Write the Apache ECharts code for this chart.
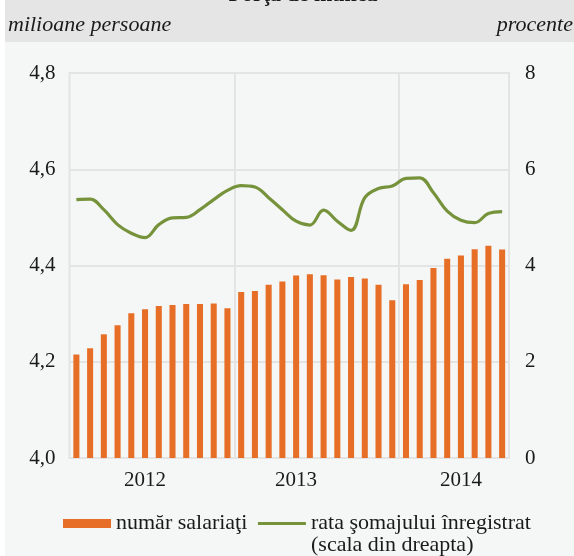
<!DOCTYPE html>
<html>
<head>
<meta charset="utf-8">
<script src="https://cdn.jsdelivr.net/npm/echarts@6/dist/echarts.min.js"></script>
<style>html,body{margin:0;padding:0;background:#fff}#c{width:574px;height:556px}</style>
</head>
<body>
<div id="c"></div>
<script>
var months = ['ian 2012','feb 2012','mar 2012','apr 2012','mai 2012','iun 2012','iul 2012','aug 2012','sep 2012','oct 2012','noi 2012','dec 2012',
              'ian 2013','feb 2013','mar 2013','apr 2013','mai 2013','iun 2013','iul 2013','aug 2013','sep 2013','oct 2013','noi 2013','dec 2013',
              'ian 2014','feb 2014','mar 2014','apr 2014','mai 2014','iun 2014','iul 2014','aug 2014'];
var salariati = [4.215,4.228,4.257,4.276,4.301,4.309,4.316,4.318,4.320,4.320,4.321,4.311,
                 4.345,4.347,4.360,4.367,4.379,4.382,4.380,4.371,4.376,4.373,4.360,4.328,
                 4.361,4.370,4.395,4.414,4.421,4.434,4.441,4.433];
var somaj = [5.37,5.38,5.16,4.85,4.67,4.58,4.85,4.99,5.00,5.16,5.37,5.56,
             5.66,5.63,5.41,5.16,4.92,4.84,5.15,4.92,4.73,5.41,5.60,5.65,
             5.81,5.82,5.51,5.13,4.94,4.89,5.08,5.12];
var yearLabelIndex = [5,16,28];
var yearLabels = ['2012','2013','2014'];
var leftTicks = {min:4.0, max:4.8, interval:0.2};
var rightTicks = {min:0, max:8, interval:2};
var seriesNames = ['număr salariaţi','rata şomajului înregistrat'];

var FONT = 'Liberation Serif';
var TXT = '#1a1a1a';
var GRIDC = '#e4e4e4';
var GREEN = '#76933c';
var ORANGE = '#e66e26';

var chart = echarts.init(document.getElementById('c'), null, {renderer:'canvas'});
chart.setOption({
  backgroundColor: '#f5f7f6',
  animation: false,
  textStyle: {fontFamily: FONT},
  graphic: [
    {type:'rect', shape:{x:0,y:0,width:5,height:556}, style:{fill:'#ffffff'}, z:0},
    {type:'rect', shape:{x:5,y:0,width:569,height:42}, style:{fill:'#e5e5e5'}, z:0},
    {type:'text', x:303, y:6, z:10, style:{text:'Forţa de muncă', font:'bold 22px "Liberation Serif"', fill:TXT, textAlign:'center', textVerticalAlign:'bottom'}},
    {type:'text', x:8, y:25, z:10, style:{text:'milioane persoane', font:'italic 22px "Liberation Serif"', fill:TXT, textAlign:'left', textVerticalAlign:'middle'}},
    {type:'text', x:573, y:25, z:10, style:{text:'procente', font:'italic 22px "Liberation Serif"', fill:TXT, textAlign:'right', textVerticalAlign:'middle'}},
    {type:'text', x:311, y:545, z:10, style:{text:'(scala din dreapta)', font:'22px "Liberation Serif"', fill:TXT, textAlign:'left', textVerticalAlign:'middle'}}
  ],
  grid: {left:69.5, right:65, top:73, bottom:98, containLabel:false, outerBoundsMode:'none',
         show:true, borderColor:GRIDC, borderWidth:2, backgroundColor:'transparent'},
  legend: {
    left: 58, top: 507.5, itemWidth: 48, itemHeight: 9, itemGap: 9,
    textStyle: {fontFamily: FONT, fontSize: 22, color: TXT, padding:[5,0,0,0]},
    data: [{name: seriesNames[0], icon: 'rect', itemStyle:{color:ORANGE}},
           {name: seriesNames[1], itemStyle:{color:'rgba(0,0,0,0)', borderWidth:0, opacity:0},
            lineStyle:{color:GREEN, width:3.2}}]
  },
  xAxis: {
    type: 'category', data: months, boundaryGap: true,
    axisTick: {show:false},
    axisLine: {show:true, lineStyle:{color:GRIDC, width:2}},
    splitLine: {show:true, interval: function(i){ return i===12 || i===24; }, lineStyle:{color:GRIDC, width:2}},
    axisLabel: {
      interval: 0, margin: 12, fontFamily: FONT, fontSize: 21, color: TXT,
      formatter: function(v, i){ var k = yearLabelIndex.indexOf(i); return k >= 0 ? yearLabels[k] : ''; }
    }
  },
  yAxis: [
    {type:'value', min:leftTicks.min, max:leftTicks.max, interval:leftTicks.interval,
     axisLine:{show:false}, axisTick:{show:false},
     splitLine:{show:true, lineStyle:{color:GRIDC, width:2}},
     axisLabel:{margin:14, fontFamily:FONT, fontSize:21, color:TXT, formatter:function(v){return v.toFixed(1).replace('.',',');}}},
    {type:'value', min:rightTicks.min, max:rightTicks.max, interval:rightTicks.interval, position:'right',
     axisLine:{show:false}, axisTick:{show:false}, splitLine:{show:false},
     axisLabel:{margin:16, fontFamily:FONT, fontSize:21, color:TXT}}
  ],
  series: [
    {name: seriesNames[0], type:'bar', yAxisIndex:0, data:salariati, barWidth:'44%',
     itemStyle:{color:ORANGE}},
    {name: seriesNames[1], type:'line', yAxisIndex:1, data:somaj, smooth:0.4, symbol:'none',
     lineStyle:{color:GREEN, width:3.2}, itemStyle:{color:GREEN}}
  ]
});
</script>
</body>
</html>
